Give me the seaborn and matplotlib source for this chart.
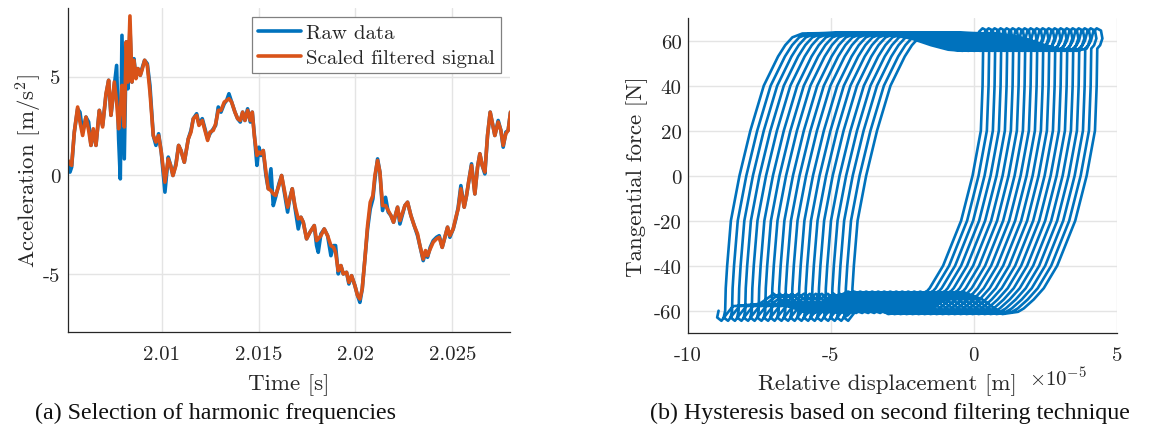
import matplotlib
matplotlib.use("Agg")
import matplotlib.pyplot as plt
import numpy as np
import pandas as pd
import seaborn as sns

# ---------------- (a) acceleration time series ----------------
time_s = [
    2.005112, 2.005266, 2.005352, 2.00549, 2.005662, 2.005782, 2.00592, 2.006092, 2.00623, 2.00635,
    2.00647, 2.006608, 2.00678, 2.006952, 2.007124, 2.007262, 2.007382, 2.007554, 2.007674, 2.007778,
    2.007864, 2.00795, 2.00807, 2.008173, 2.008259, 2.008362, 2.008466, 2.008569, 2.008672, 2.008775,
    2.008896, 2.008982, 2.009119, 2.009257, 2.009394, 2.009566, 2.009704, 2.009842, 2.009979, 2.010168,
    2.01034, 2.010461, 2.010581, 2.010736, 2.010874,
    2.010996, 2.011168, 2.011374, 2.011512, 2.011632, 2.011804, 2.011924, 2.012096, 2.012234, 2.012372,
    2.012492, 2.012664, 2.012784, 2.012922, 2.01306, 2.013232, 2.013352, 2.013472, 2.01361, 2.013782,
    2.01392, 2.014057, 2.014178, 2.014298, 2.014436, 2.014573, 2.014676, 2.01478, 2.014917, 2.01502,
    2.015124, 2.015244, 2.015382, 2.015502, 2.01564, 2.01576, 2.01588, 2.016052, 2.01619,
    2.0165, 2.01662, 2.01674, 2.016878, 2.01705, 2.017188, 2.017308, 2.01748, 2.017652, 2.017876,
    2.017996, 2.018082, 2.01822, 2.018392, 2.018564, 2.018736, 2.018873, 2.018976, 2.019114, 2.019252,
    2.019372, 2.019544, 2.019664, 2.019802, 2.019974, 2.020112, 2.020232, 2.020352, 2.02049, 2.020628,
    2.020765, 2.020903, 2.021006, 2.021144, 2.021264, 2.021402, 2.021556, 2.021694, 2.021832, 2.021969,
    2.022176, 2.022296, 2.022416, 2.022554, 2.022692, 2.022864, 2.023036, 2.023208, 2.023328, 2.0235,
    2.02362, 2.023724, 2.023861, 2.024016, 2.024188, 2.024326, 2.02448, 2.024618, 2.024756, 2.024876,
    2.025048, 2.025186, 2.025306, 2.025444, 2.025616, 2.025736, 2.025856, 2.025994, 2.026166, 2.026304,
    2.026424, 2.026544, 2.026682, 2.02682, 2.026957, 2.027078, 2.027198, 2.02737, 2.027508, 2.027628,
    2.027766, 2.027886, 2.028006,
]

raw_accel = [
    0.76, 0.17, 0.42, 2.19, 3.37, 3.20, 2.19, 2.95, 2.70, 1.52,
    2.28, 1.52, 3.29, 2.53, 4.05, 4.81, 3.04, 4.55, 5.56, 1.85,
    -0.17, 7.08, 0.84, 6.75, 4.38, 7.50, 4.72, 5.90, 4.97, 5.40,
    5.06, 5.40, 5.82, 5.65, 4.55, 2.02, 1.52, 2.11, 1.18, -0.84,
    0.93, 0.51, 0.00, 0.59, 1.52,
    1.26, 0.67, 1.85, 2.28, 2.87, 3.12, 2.61, 2.87, 2.36, 1.85,
    2.11, 2.36, 2.53, 3.46, 3.20, 3.63, 3.79, 4.13, 3.71, 3.20,
    2.87, 2.70, 3.20, 2.78, 3.37, 2.70, 3.20, 2.11, 0.51, 1.43,
    1.01, 1.26, 0.00, -0.67, 0.34, -1.52, -1.10, -0.42, 0.00,
    -1.85, -1.10, -0.67, -1.60, -2.70, -2.11, -2.36, -3.20, -2.87, -2.53,
    -3.54, -3.88, -2.95, -2.70, -3.04, -4.05, -3.54, -3.54, -4.97, -4.55,
    -4.97, -4.89, -5.48, -5.06, -5.56, -6.07, -6.41, -5.73, -4.22, -2.70,
    -1.69, -1.18, -0.17, 0.84, 0.17, -1.77, -1.10, -1.85, -2.02, -2.36,
    -1.60, -2.45, -2.02, -1.52, -1.35, -2.02, -2.53, -3.04, -3.54, -4.30,
    -3.88, -4.13, -3.63, -3.29, -3.12, -3.04, -3.63, -3.12, -2.61, -3.12,
    -2.70, -2.19, -1.60, -0.51, -1.60, -1.01, -0.25, 0.59, -0.93, 0.42,
    1.10, 0.51, 0.08, 2.02, 3.20, 2.61, 2.02, 2.78, 2.28, 1.43,
    2.19, 2.28, 3.20,
]

filtered_accel = [
    0.84, 0.59, 0.51, 2.19, 3.46, 2.70, 2.02, 2.95, 2.28, 1.52,
    2.36, 1.52, 3.29, 2.45, 4.13, 4.81, 3.04, 4.72, 3.71, 2.36,
    3.20, 4.55, 2.45, 6.75, 4.72, 8.06, 4.72, 5.82, 4.89, 5.40,
    5.06, 5.31, 5.82, 5.56, 4.22, 2.02, 1.69, 2.02, 1.18, -0.34,
    0.84, 0.51, 0.00, 0.51, 1.52,
    1.26, 0.67, 1.85, 2.19, 2.87, 3.04, 2.53, 2.78, 2.28, 1.77,
    2.19, 2.28, 2.61, 3.29, 3.29, 3.71, 3.79, 3.88, 3.71, 3.20,
    2.87, 2.78, 3.20, 2.78, 3.29, 2.78, 3.20, 2.02, 1.01, 1.18,
    1.10, 1.26, 0.17, -0.67, -0.76, -0.93, -1.01, -0.51, 0.00,
    -1.60, -1.18, -0.67, -1.52, -2.19, -2.11, -2.36, -3.20, -2.87, -2.53,
    -3.29, -3.20, -3.04, -2.70, -3.04, -3.54, -3.63, -3.88, -4.81, -4.55,
    -4.97, -4.89, -5.40, -5.06, -5.56, -6.07, -6.24, -5.73, -4.22, -2.53,
    -1.35, -1.01, 0.00, 0.76, 0.17, -1.52, -1.52, -1.77, -2.02, -2.36,
    -1.60, -2.28, -1.94, -1.52, -1.35, -2.02, -2.53, -2.95, -3.54, -4.22,
    -3.79, -4.05, -3.71, -3.37, -3.20, -3.12, -3.63, -3.12, -2.61, -3.04,
    -2.70, -2.11, -1.69, -0.67, -1.60, -1.01, -0.25, 0.51, -0.93, 0.42,
    1.10, 0.51, 0.17, 2.02, 3.20, 2.61, 2.02, 2.70, 2.28, 1.52,
    2.11, 2.28, 3.20,
]

time_ticks = [2.01, 2.015, 2.02, 2.025]
time_tick_labels = ["2.01", "2.015", "2.02", "2.025"]
accel_ticks = [-5, 0, 5]
accel_tick_labels = ["-5", "0", "5"]

# ---------------- (b) hysteresis loops (displacement in 1e-5 m, force in N) ----------------
left_anchor = [-4.26, -4.49, -4.73, -4.96, -5.19, -5.43, -5.66, -5.89, -6.12, -6.36,
               -6.59, -6.82, -7.06, -7.29, -7.52, -7.76, -7.99, -8.22, -8.45, -8.69, -8.92]
right_anchor = [4.30, 4.09, 3.88, 3.67, 3.46, 3.25, 3.04, 2.83, 2.62, 2.41,
                2.20, 1.99, 1.78, 1.57, 1.36, 1.15, 0.94, 0.73, 0.52, 0.31]
start_disp = [-4.55, -4.40]
start_force = [-63.0, -62.0]
up_disp = [0.00, 0.02, 0.07, 0.20, 0.50, 0.88, 1.35, 1.85, 2.10, 2.35, 2.70]
up_force = [-60, -50, -40, -20, 0, 20, 40, 53, 58, 61.5, 63.2]
top_disp = [-5.0, -3.5, -2.5, -1.8, -1.2, -0.7, -0.35, -0.2, -0.12, 0.0, 0.15, 0.2, 0.12, 0.02]
top_force = [63.5, 63.2, 61, 58, 56, 55.5, 56.5, 60, 64, 65.5, 64.5, 61, 58, 56.5]
down_disp = [0.00, -0.06, -0.35, -0.75, -1.38, -1.85, -2.20, -2.55, -2.75]
down_force = [40, 20, 0, -20, -40, -50, -55, -59, -60.5]
botr_disp = [-3.3, -4.0, -4.7, -5.3, -6.1, -6.8, -7.3, -7.8]
botr_force = [-61.5, -55, -51.5, -55, -61, -58, -52.5, -57]
botl_disp = [0.5, 0.25, 0.10, -0.05, 0.0]
botl_force = [-58, -62, -64.5, -63, -60]

disp_ticks = [-10, -5, 0, 5]
disp_tick_labels = ["-10", "-5", "0", "5"]
force_ticks = [-60, -40, -20, 0, 20, 40, 60]
force_tick_labels = ["-60", "-40", "-20", "0", "20", "40", "60"]

BLUE = "#0072BD"
ORANGE = "#D95319"

sns.set_style("white")
plt.rcParams.update({
    "font.family": "cmr10",
    "mathtext.fontset": "cm",
    "axes.unicode_minus": False,
    "axes.formatter.use_mathtext": True,
})

fig = plt.figure(figsize=(11.59, 4.39), dpi=100)
ax1 = fig.add_axes([68.3 / 1159, 1 - 333.3 / 439, 441.7 / 1159, 324.3 / 439])
ax2 = fig.add_axes([687.7 / 1159, 1 - 334.2 / 439, 429.0 / 1159, 315.0 / 439])

df_a = pd.DataFrame({"t": time_s, "raw": raw_accel, "filt": filtered_accel})
sns.lineplot(data=df_a, x="t", y="raw", ax=ax1, color=BLUE, linewidth=2.6,
             label="Raw data", sort=False, estimator=None)
sns.lineplot(data=df_a, x="t", y="filt", ax=ax1, color=ORANGE, linewidth=2.6,
             label="Scaled filtered signal", sort=False, estimator=None)

xs = list(start_disp)
fs = list(start_force)
for k in range(len(right_anchor)):
    x0 = left_anchor[k]
    xr = right_anchor[k]
    x0n = left_anchor[k + 1]
    xs += [x0 + d for d in up_disp]; fs += up_force
    xs += [xr + d for d in top_disp]; fs += top_force
    xs += [xr + d for d in down_disp]; fs += down_force
    xs += [xr + d for d in botr_disp]; fs += botr_force
    xs += [x0n + d for d in botl_disp]; fs += botl_force
df_b = pd.DataFrame({"x": xs, "f": fs})
sns.lineplot(data=df_b, x="x", y="f", ax=ax2, color=BLUE, linewidth=1.9,
             sort=False, estimator=None)
for ln in ax2.lines + ax1.lines:
    ln.set_solid_joinstyle("round")
    ln.set_solid_capstyle("round")

SPINE = "#262626"
GRID = "#e4e4e4"
TICKSIZE = 15

ax1.set_xlim(2.00518, 2.02798)
ax1.set_ylim(-7.92, 8.46)
ax1.set_xticks(time_ticks)
ax1.set_xticklabels(time_tick_labels)
ax1.set_yticks(accel_ticks)
ax1.set_yticklabels(accel_tick_labels)
ax1.set_xlabel("Time [s]", fontsize=TICKSIZE + 1.5)
ax1.xaxis.set_label_coords((289 - 68.3) / 441.7, -0.1255)
ax1.set_ylabel(r"Acceleration [m/s$^2$]", fontsize=TICKSIZE + 1.5, labelpad=-1)

ax2.set_xlim(-10, 5)
ax2.set_ylim(-70, 70)
ax2.set_xticks(disp_ticks)
ax2.set_xticklabels(disp_tick_labels)
ax2.set_yticks(force_ticks)
ax2.set_yticklabels(force_tick_labels)
ax2.set_xlabel("Relative displacement [m]", fontsize=TICKSIZE + 1.5)
ax2.xaxis.set_label_coords((887 - 687.7) / 429.0, -0.126)
ax2.set_ylabel("Tangential force [N]", fontsize=TICKSIZE + 1.5, labelpad=4)
ax2.text(1087 / 1159, 1 - 379 / 439, r"$\times10^{-5}$", transform=fig.transFigure,
         ha="right", va="center", fontsize=TICKSIZE)

for ax, ypad in ((ax1, 5.8), (ax2, 4.3)):
    for side in ("top", "right"):
        ax.spines[side].set_visible(False)
    for side in ("left", "bottom"):
        ax.spines[side].set_color(SPINE)
        ax.spines[side].set_linewidth(0.9)
    ax.grid(True, color=GRID, linewidth=1.0)
    ax.set_axisbelow(True)
    ax.tick_params(axis="both", direction="in", length=4, width=0.8, color=SPINE,
                   labelsize=TICKSIZE, labelcolor="#262626")
    ax.tick_params(axis="x", pad=9)
    ax.tick_params(axis="y", pad=ypad)

leg = ax1.legend(loc="upper right", bbox_to_anchor=((501 - 68.3) / 441.7, (333.3 - 18.3) / 324.3),
                 borderaxespad=0, fontsize=TICKSIZE, frameon=True, fancybox=False,
                 edgecolor="#808080", framealpha=1, handlelength=2.05, handletextpad=0.25,
                 labelspacing=0.3, borderpad=0.3)
leg.get_frame().set_linewidth(0.9)

fig.text(215.5 / 1159, 1 - 413 / 439, "(a) Selection of harmonic frequencies",
         ha="center", va="center", family="Liberation Serif", fontsize=17.3, color="#111111")
fig.text(890 / 1159, 1 - 413 / 439, "(b) Hysteresis based on second filtering technique",
         ha="center", va="center", family="Liberation Serif", fontsize=17.3, color="#111111")

fig.savefig("out.png", dpi=100)
